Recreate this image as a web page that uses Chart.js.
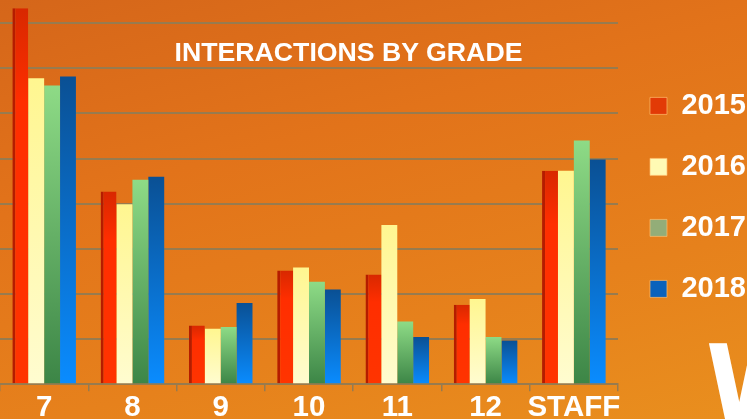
<!DOCTYPE html>
<html lang="en">
<head>
<meta charset="UTF-8">
<title>Interactions by Grade</title>
<script src="https://cdn.jsdelivr.net/npm/chart.js"></script>
<style>
  html, body { margin: 0; padding: 0; }
  body {
    width: 747px; height: 419px; overflow: hidden; position: relative;
    background: linear-gradient(165deg, #d5661a 0%, #e2731a 35%, #e6811c 70%, #e98f1e 100%);
    font-family: "Liberation Sans", Arial, sans-serif;
  }
  #wrap { position: absolute; left: 0; top: -40px; width: 756px; height: 465px; }
  .title {
    position: absolute; left: 0; width: 697px; top: 39px; text-align: center;
    color: #fff; font-weight: bold; font-size: 26.7px; line-height: 26px;
  }
  .big {
    position: absolute; left: 706px; top: 331px; color: #fff;
    font-family: "Liberation Sans Narrow", "DejaVu Sans Condensed", sans-serif;
    font-weight: bold; font-size: 110px; line-height: 110px;
  }
</style>
</head>
<body>

<div id="wrap"><canvas id="gradeChart"></canvas></div>
<div class="title">INTERACTIONS BY GRADE</div>
<div class="big">W</div>

<script>
const grades = ['7', '8', '9', '10', '11', '12', 'STAFF'];
const years = ['2015', '2016', '2017', '2018'];
const v2015 = [83.3, 42.7, 13.0, 25.2, 24.3, 17.6, 47.3];
const v2016 = [67.8, 39.9, 12.3, 25.9, 35.3, 18.9, 47.3];
const v2017 = [66.2, 45.3, 12.7, 22.7, 13.9, 10.5, 54.0];
const v2018 = [68.2, 46.0, 18.0, 21.0, 10.5, 9.7, 49.8];

const gridColor = '#977b4f';
const legendColors = ['#e23a06', '#fffab4', '#93ad78', '#0a62bc'];

// per-bar vertical gradient, from the top of the bar down to zero
function barFill(stops) {
    return ctx => {
        const chart = ctx.chart;
        if (!chart.chartArea || ctx.raw == null) return stops[stops.length - 1][1];
        const y = chart.scales.y;
        const top = y.getPixelForValue(ctx.raw);
        const base = y.getPixelForValue(0);
        const g = chart.ctx.createLinearGradient(0, top, 0, base);
        stops.forEach(s => g.addColorStop(s[0], s[1]));
        return g;
    };
}

const fills = [
    barFill([[0, '#d82800'], [0.25, '#ff2e00'], [1, '#ff3400']]),
    barFill([[0, '#fff690'], [1, '#fffcd0']]),
    barFill([[0, '#8edb86'], [1, '#3c8546']]),
    barFill([[0, '#0a5094'], [1, '#0a8cff']])
];

const series = [v2015, v2016, v2017, v2018];

new Chart(document.getElementById('gradeChart'), {
    type: 'bar',
    data: {
        labels: grades,
        datasets: series.map((vals, i) => ({
            label: years[i],
            data: vals,
            backgroundColor: fills[i],
            borderWidth: i === 0 ? {left: 3, top: 0, right: 0, bottom: 0} : 0,
            borderColor: '#b51c00',
            borderSkipped: false,
            categoryPercentage: 0.72,
            barPercentage: 1.0
        }))
    },
    options: {
        responsive: true,
        maintainAspectRatio: false,
        animation: false,
        layout: { padding: { top: 18, left: 0, right: 0, bottom: 0 } },
        plugins: {
            tooltip: { enabled: false },
            legend: {
                position: 'right',
                align: 'start',
                // blank title only used as a spacer above the items
                title: { display: true, text: ' ', font: { size: 12 }, padding: { top: 67, bottom: 0 } },
                labels: {
                    boxWidth: 17,
                    boxHeight: 17,
                    padding: 32,
                    color: '#fff',
                    font: { family: 'Liberation Sans', size: 29, weight: 'bold' },
                    generateLabels: chart => chart.data.datasets.map((ds, i) => ({
                        text: ds.label,
                        fillStyle: legendColors[i],
                        strokeStyle: 'rgba(255,190,110,0.7)',
                        lineWidth: 1,
                        fontColor: '#fff',
                        datasetIndex: i,
                        hidden: false
                    }))
                }
            }
        },
        scales: {
            x: {
                grid: {
                    offset: true,
                    drawOnChartArea: false,
                    color: gridColor,
                    lineWidth: 1.5,
                    tickLength: 7
                },
                border: { color: gridColor, width: 2 },
                ticks: {
                    color: '#fff',
                    padding: 8,
                    autoSkip: false,
                    maxRotation: 0,
                    minRotation: 0,
                    font: { family: 'Liberation Sans', size: 29.5, weight: 'bold', lineHeight: 0.6 }
                }
            },
            y: {
                min: 0,
                max: 90,
                ticks: { stepSize: 10, display: false },
                grid: { color: gridColor, lineWidth: 2, drawTicks: false },
                border: { display: false }
            }
        }
    }
});
</script>

</body>
</html>
